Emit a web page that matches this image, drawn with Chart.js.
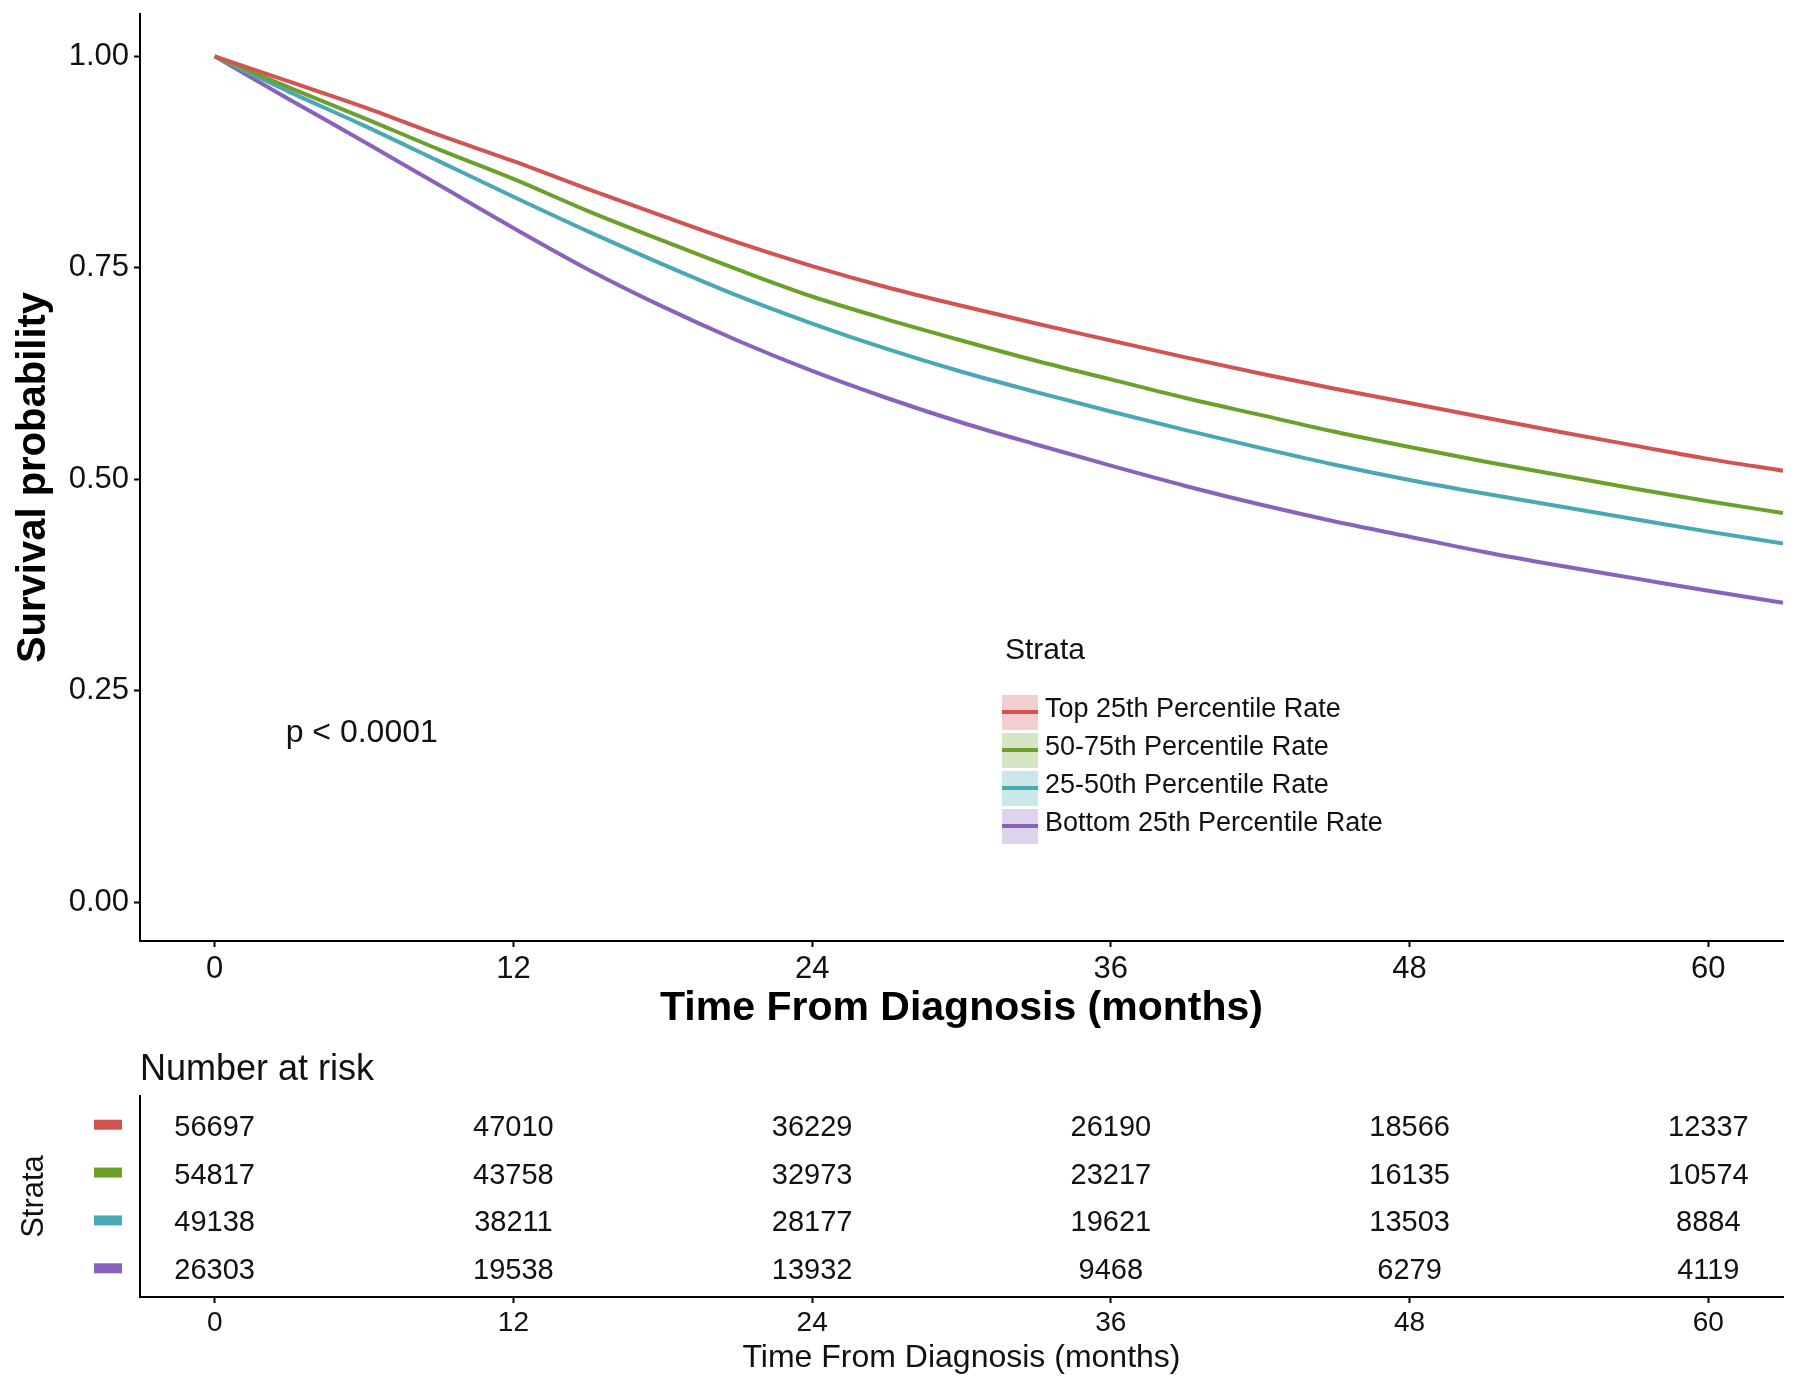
<!DOCTYPE html>
<html>
<head>
<meta charset="utf-8">
<script src="https://cdn.jsdelivr.net/npm/chart.js@4.4.1/dist/chart.umd.min.js"></script>
<style>
  body { margin: 0; background: #fff; }
  #wrap { position: relative; width: 1800px; height: 1387px; }
  #surv { position: absolute; left: 0; top: 0; }
  #risk { position: absolute; left: 0; top: 1040px; }
</style>
</head>
<body>
<div id="wrap">
  <canvas id="surv" width="1800" height="1040"></canvas>
  <canvas id="risk" width="1800" height="347"></canvas>
</div>
<script>
// data
const strata = ['Top 25th Percentile Rate', '50-75th Percentile Rate', '25-50th Percentile Rate', 'Bottom 25th Percentile Rate'];
const colors = ['#d2534f', '#6ba12b', '#48a8b4', '#8a62bb'];
const bandColors = ['rgba(210,83,79,0.28)', 'rgba(107,161,43,0.28)', 'rgba(72,168,180,0.28)', 'rgba(138,98,187,0.28)'];

const months = [0, 3, 6, 9, 12, 15, 18, 21, 24, 27, 30, 33, 36, 39, 42, 45, 48, 51, 54, 57, 60, 63];
const survTop = [1.000, 0.970, 0.940, 0.907, 0.876, 0.843, 0.811, 0.780, 0.752, 0.727, 0.705, 0.684, 0.664, 0.644, 0.625, 0.607, 0.590, 0.573, 0.556, 0.540, 0.524, 0.510];
const surv5075 = [1.000, 0.963, 0.927, 0.890, 0.855, 0.817, 0.782, 0.748, 0.716, 0.689, 0.664, 0.640, 0.618, 0.596, 0.576, 0.556, 0.538, 0.521, 0.505, 0.489, 0.474, 0.460];
const surv2550 = [1.000, 0.958, 0.918, 0.876, 0.834, 0.793, 0.754, 0.717, 0.684, 0.654, 0.627, 0.603, 0.580, 0.558, 0.537, 0.517, 0.499, 0.483, 0.468, 0.453, 0.438, 0.424];
const survBottom = [1.000, 0.949, 0.899, 0.848, 0.797, 0.748, 0.704, 0.664, 0.628, 0.596, 0.567, 0.541, 0.516, 0.492, 0.470, 0.450, 0.432, 0.414, 0.398, 0.383, 0.368, 0.354];

const xTicks = [0, 12, 24, 36, 48, 60];
const yTicks = [0, 0.25, 0.5, 0.75, 1];

const riskTimes = [0, 12, 24, 36, 48, 60];
const riskTop = [56697, 47010, 36229, 26190, 18566, 12337];
const risk5075 = [54817, 43758, 32973, 23217, 16135, 10574];
const risk2550 = [49138, 38211, 28177, 19621, 13503, 8884];
const riskBottom = [26303, 19538, 13932, 9468, 6279, 4119];

const pvalText = 'p < 0.0001';

const FONT = "'Liberation Sans', Arial, Helvetica, sans-serif";

// main survival chart
const survSeries = [survTop, surv5075, surv2550, survBottom];

const survExtras = {
  id: 'survExtras',
  afterDatasetsDraw(chart) {
    const c = chart.ctx;
    const xs = chart.scales.x, ys = chart.scales.y;
    c.save();
    c.fillStyle = '#111';
    c.font = '32px ' + FONT;
    c.textAlign = 'left';
    c.textBaseline = 'middle';
    c.fillText(pvalText, xs.getPixelForValue(2.85), ys.getPixelForValue(0.2));

    // legend
    c.font = '30px ' + FONT;
    c.fillText('Strata', 1005, 651);
    c.font = '27px ' + FONT;
    strata.forEach((s, i) => {
      const yc = 712 + i * 38;
      c.fillStyle = bandColors[i];
      c.fillRect(1002, yc - 17, 36, 35);
      c.strokeStyle = colors[i];
      c.lineWidth = 4;
      c.beginPath();
      c.moveTo(1002, yc);
      c.lineTo(1038, yc);
      c.stroke();
      c.fillStyle = '#111';
      c.fillText(s, 1045, yc - 2);
    });
    c.restore();
  }
};

new Chart(document.getElementById('surv'), {
  type: 'line',
  data: {
    datasets: survSeries.map((arr, i) => ({
      label: strata[i],
      data: months.map((m, j) => ({ x: m, y: arr[j] })),
      borderColor: colors[i],
      borderWidth: 4,
      pointRadius: 0,
      tension: 0.3,
      cubicInterpolationMode: 'monotone',
      fill: false
    }))
  },
  plugins: [survExtras],
  options: {
    responsive: false,
    animation: false,
    layout: { padding: { top: 14, right: 17, left: 0, bottom: 0 } },
    plugins: { legend: { display: false }, tooltip: { enabled: false } },
    scales: {
      x: {
        type: 'linear',
        min: -3,
        max: 63,
        afterBuildTicks: s => { s.ticks = xTicks.map(v => ({ value: v })); },
        afterFit: s => { s.height = 99; },
        border: { display: true, color: '#000', width: 2 },
        grid: { drawOnChartArea: false, drawTicks: true, tickLength: 6, color: '#000', tickWidth: 2 },
        ticks: { color: '#111', font: { family: FONT, size: 31, lineHeight: 1 }, padding: 7, maxRotation: 0 },
        title: {
          display: true,
          text: 'Time From Diagnosis (months)',
          color: '#000',
          font: { family: FONT, size: 41, weight: 'bold', lineHeight: 1.2 },
          padding: { top: 0, bottom: 7 }
        }
      },
      y: {
        type: 'linear',
        min: -0.046,
        max: 1.05,
        afterBuildTicks: s => { s.ticks = yTicks.map(v => ({ value: v })); },
        afterFit: s => { s.width = 140; },
        border: { display: true, color: '#000', width: 2 },
        grid: { drawOnChartArea: false, drawTicks: true, tickLength: 6, color: '#000', tickWidth: 2 },
        ticks: { color: '#111', font: { family: FONT, size: 31, lineHeight: 0.5 }, padding: 5, callback: v => v.toFixed(2) },
        title: {
          display: true,
          text: 'Survival probability',
          color: '#000',
          font: { family: FONT, size: 40, weight: 'bold', lineHeight: 1.2 },
          padding: { top: 10, bottom: 0 }
        }
      }
    }
  }
});

// risk table
const riskSeries = [riskTop, risk5075, risk2550, riskBottom];
const riskRows = [4, 3, 2, 1];

const riskExtras = {
  id: 'riskExtras',
  afterDatasetsDraw(chart) {
    const c = chart.ctx;
    const ys = chart.scales.y;
    c.save();
    c.fillStyle = '#111';
    c.font = '36px ' + FONT;
    c.textAlign = 'left';
    c.textBaseline = 'middle';
    c.fillText('Number at risk', 140, 30);

    c.font = '29px ' + FONT;
    c.textAlign = 'center';
    chart.data.datasets.forEach((ds, i) => {
      const meta = chart.getDatasetMeta(i);
      meta.data.forEach((pt, j) => {
        c.fillStyle = '#111';
        c.fillText(String(riskSeries[i][j]), pt.x, pt.y + 3);
      });
      c.fillStyle = colors[i];
      const yc = ys.getPixelForValue(riskRows[i]);
      c.fillRect(94, yc - 5, 28, 10);
    });
    c.restore();
  }
};

new Chart(document.getElementById('risk'), {
  type: 'scatter',
  data: {
    datasets: riskSeries.map((arr, i) => ({
      label: strata[i],
      data: riskTimes.map((t, j) => ({ x: t, y: riskRows[i] })),
      pointRadius: 0
    }))
  },
  plugins: [riskExtras],
  options: {
    responsive: false,
    animation: false,
    layout: { padding: { top: 56, right: 17, left: 0, bottom: 0 } },
    plugins: { legend: { display: false }, tooltip: { enabled: false } },
    scales: {
      x: {
        type: 'linear',
        min: -3,
        max: 63,
        afterBuildTicks: s => { s.ticks = riskTimes.map(v => ({ value: v })); },
        afterFit: s => { s.height = 90; },
        border: { display: true, color: '#000', width: 2 },
        grid: { drawOnChartArea: false, drawTicks: true, tickLength: 6, color: '#000', tickWidth: 2 },
        ticks: { color: '#111', font: { family: FONT, size: 28, lineHeight: 1 }, padding: 6, maxRotation: 0 },
        title: {
          display: true,
          text: 'Time From Diagnosis (months)',
          color: '#111',
          font: { family: FONT, size: 32, lineHeight: 1.2 },
          padding: { top: 0, bottom: 10 }
        }
      },
      y: {
        type: 'linear',
        min: 0.4,
        max: 4.6,
        afterFit: s => { s.width = 140; },
        border: { display: true, color: '#000', width: 2 },
        grid: { display: false },
        ticks: { display: false },
        title: {
          display: true,
          text: 'Strata',
          color: '#111',
          font: { family: FONT, size: 31, lineHeight: 1.2 },
          padding: { top: 16, bottom: 0 }
        }
      }
    }
  }
});
</script>
</body>
</html>
